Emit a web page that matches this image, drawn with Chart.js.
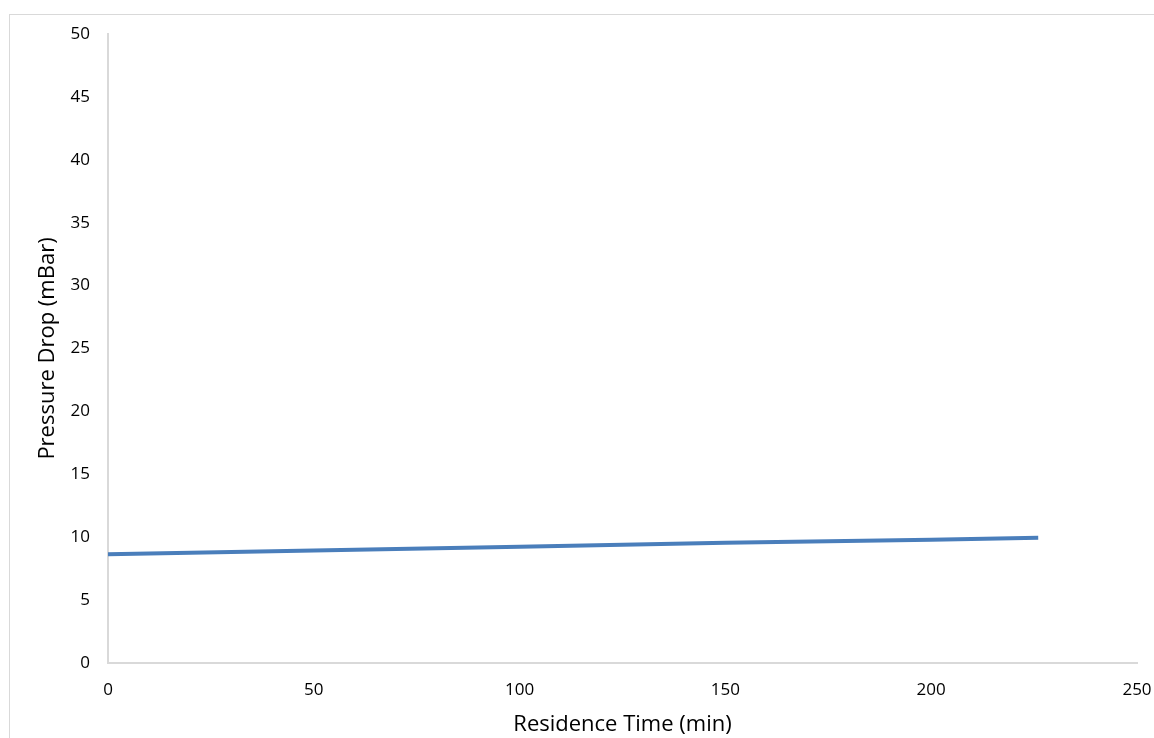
<!DOCTYPE html>
<html lang="en">
<head>
  <meta charset="UTF-8">
  <title>Pressure Drop vs Residence Time</title>
  <script src="https://cdn.jsdelivr.net/npm/chart.js"></script>
  <style>
    body {
      margin: 0;
      padding: 0;
      background: #ffffff;
      width: 1154px;
      height: 738px;
      overflow: hidden;
      position: relative;
      font-family: 'Open Sans', sans-serif;
    }
    .frame {
      position: absolute;
      left: 9px;
      top: 14px;
      width: 1160px;
      height: 740px;
      border: 1px solid #d9d9d9;
    }
    #chart {
      position: absolute;
      left: 0;
      top: 0;
    }
  </style>
</head>
<body>
  <div class="frame"></div>
  <canvas id="chart" width="1154" height="738"></canvas>

  <script>
    // residence time (min) and measured pressure drop (mBar)
    const residenceTime = [0, 50, 100, 150, 200, 226];
    const pressureDrop = [8.65, 8.95, 9.25, 9.55, 9.8, 9.95];

    const points = residenceTime.map((t, i) => ({ x: t, y: pressureDrop[i] }));

    const axisColor = '#d9d9d9';
    const textColor = '#000000';

    new Chart(document.getElementById('chart'), {
      type: 'line',
      data: {
        datasets: [{
          label: 'Pressure Drop',
          data: points,
          borderColor: '#4a7ebb',
          borderWidth: 4,
          pointRadius: 0,
          tension: 0,
          fill: false
        }]
      },
      options: {
        responsive: false,
        animation: false,
        layout: {
          padding: { top: 34, right: 17, left: 0, bottom: 0 }
        },
        plugins: {
          legend: { display: false },
          tooltip: { enabled: false }
        },
        scales: {
          x: {
            type: 'linear',
            min: 0,
            max: 250,
            ticks: {
              stepSize: 50,
              color: textColor,
              padding: 17,
              maxRotation: 0,
              font: { family: 'Open Sans', size: 17 }
            },
            grid: { display: false, drawTicks: false },
            border: { display: true, color: axisColor, width: 2 },
            title: {
              display: true,
              text: 'Residence Time (min)',
              color: textColor,
              padding: { top: 0, bottom: 0 },
              font: { family: 'Open Sans', size: 22 }
            },
            afterFit: function(scale) {
              scale.height = 75;
              scale.paddingLeft = 0;
              scale.paddingRight = 0;
            }
          },
          y: {
            min: 0,
            max: 50,
            ticks: {
              stepSize: 5,
              color: textColor,
              padding: 18,
              font: { family: 'Open Sans', size: 17 }
            },
            grid: { display: false, drawTicks: false },
            border: { display: true, color: axisColor, width: 2 },
            title: {
              display: true,
              text: 'Pressure Drop (mBar)',
              color: textColor,
              padding: { top: 35, bottom: 0 },
              font: { family: 'Open Sans', size: 22 }
            },
            afterFit: function(scale) {
              scale.width = 108;
              scale.paddingTop = 0;
              scale.paddingBottom = 0;
            }
          }
        }
      }
    });
  </script>
</body>
</html>
